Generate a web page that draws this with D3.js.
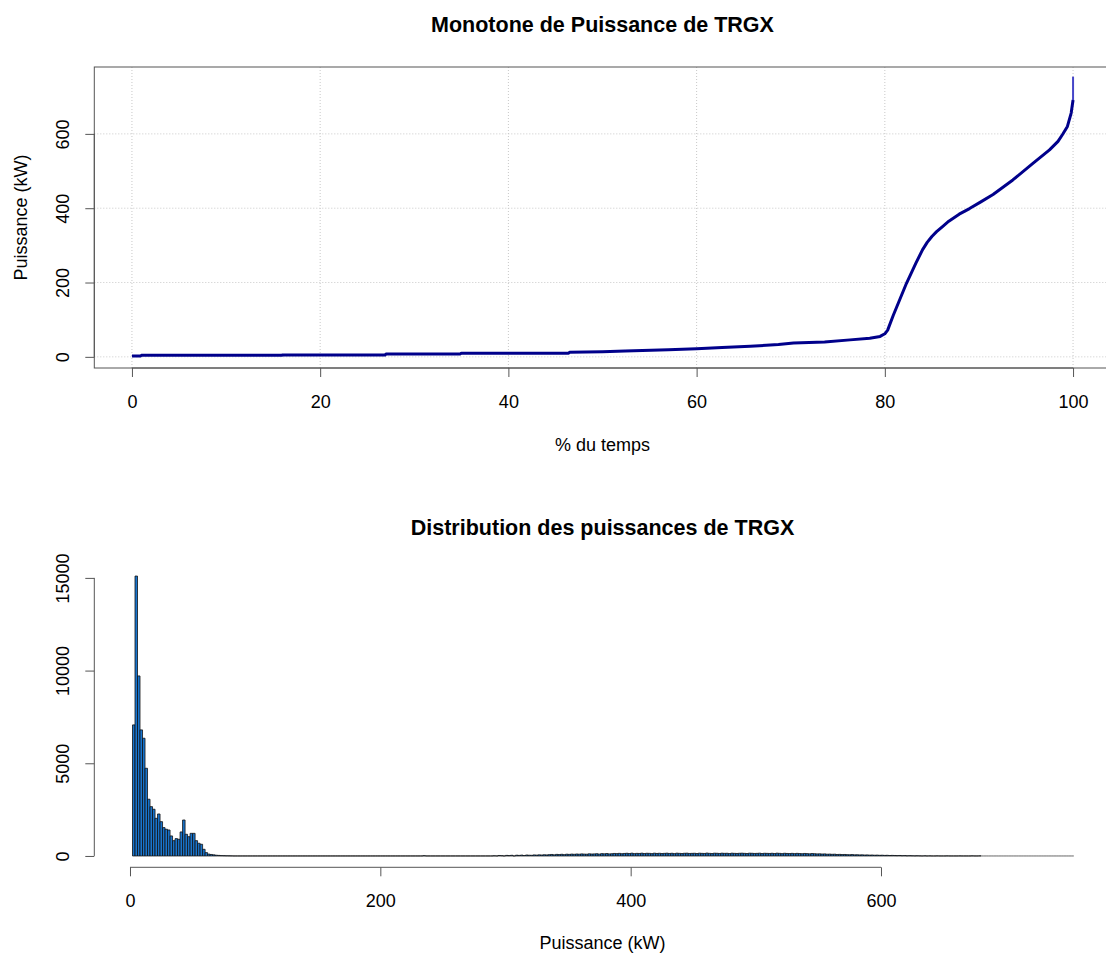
<!DOCTYPE html>
<html>
<head>
<meta charset="utf-8">
<script src="https://cdn.jsdelivr.net/npm/d3@7"></script>
<style>
  body { margin: 0; background: #fff; }
  svg { display: block; font-family: "Liberation Sans", Arial, sans-serif; }
</style>
</head>
<body>
<script>
var w = 1106;
var h = 954;

/*
    Monotone (load duration curve): % of time vs power in kW.
*/
var pctTime = [0, 0.9, 1.0, 15.9, 16.0, 26.9, 27.0, 34.9, 35.0, 46.4, 46.5, 50, 52.4, 57, 60, 62.7, 65.7, 68.7,
    70.3, 73.6, 76.3, 78.4, 79.5, 80.0, 80.3, 80.9, 81.6, 82.3, 83.3, 84.0, 84.5, 85.0, 85.5, 86.1, 86.8,
    87.9, 89.0, 90.2, 91.5, 93.6, 95.7, 97.5, 98.4, 98.9, 99.4, 99.8, 100];
var powerKw = [2, 2, 4, 4, 5, 5, 8, 8, 10, 10, 12.5, 14, 16, 19, 21.5, 25, 28.7, 33,
    37, 40, 45.7, 50, 55, 62, 72, 112, 155, 198, 252, 288, 308, 324, 337, 350, 365,
    384, 399, 417, 437, 476, 520, 557, 580, 599, 620, 656, 691];
// the last few points all sit at 100 %
var tailPct = [100, 100];
var tailKw = [691, 754];

var xTicksTop = [0, 20, 40, 60, 80, 100];
var yTicksTop = [0, 200, 400, 600];

/*
    Histogram of power, bins of 2 kW.
*/
var binWidth = 2;
var histStart = 2;
var histEnd = 754;
var lowStart = 2;
var lowCounts = [7070, 15100, 9710, 6800, 6350, 4730, 3060, 2660, 2520, 2030, 2265, 1850, 1530, 1440, 1400,
    1080, 825, 935, 900, 1295, 1940, 1170, 1040, 1220, 1220, 825, 685, 630, 360, 180, 100, 80, 60, 40, 30,
    20, 15, 10, 8, 5];
var bumpStart = 234;
var bumpCounts = [15];
var highStart = 290;
var highCounts = [
    10, 0, 25, 15, 0, 30, 20, 35, 0, 40,
    30, 45, 25, 50, 40, 35, 55, 45, 60, 50,
    65, 55, 70, 80, 60, 85, 75, 90, 70, 95,
    85, 100, 90, 105, 95, 110, 100, 95, 115, 105,
    110, 120, 100, 125, 115, 130, 110, 120, 135, 125,
    140, 120, 135, 145, 130, 150, 125, 140, 135, 150,
    130, 145, 140, 125, 150, 135, 145, 130, 140, 150,
    135, 145, 125, 150, 140, 130, 145, 150, 135, 140,
    145, 130, 150, 140, 135, 155, 140, 130, 150, 145,
    135, 150, 140, 145, 130, 150, 140, 135, 145, 150,
    140, 130, 150, 145, 135, 140, 150, 130, 145, 140,
    135, 145, 130, 150, 140, 125, 145, 135, 130, 140,
    125, 140, 130, 120, 135, 125, 115, 130, 120, 110,
    115, 105, 110, 95, 100, 90, 95, 80, 85, 75,
    80, 70, 65, 75, 60, 65, 55, 60, 50, 55,
    45, 50, 40, 45, 35, 40, 30, 35, 25, 30,
    25, 20, 25, 15, 20, 10, 15, 10, 5, 10,
    5, 0, 8, 0, 5, 0, 0, 5, 0, 0,
    0, 4, 0, 0, 0, 0, 3, 0, 0, 0,
    0, 6, 0, 0, 5];

var xTicksHist = [0, 200, 400, 600];
var yTicksHist = [0, 5000, 10000, 15000];

var svg = d3.select("body")
    .append("svg")
    .attr("width", w)
    .attr("height", h);

var axisColor = "#555";
var tickLen = 9;
var labelSize = "18px";
var titleSize = "21.5px";

/* ---------- top chart ---------- */
var xTop = d3.scaleLinear().domain([-4, 104]).range([94.3, 1110.7]);
var yTop = d3.scaleLinear().domain([-30, 780]).range([368, 67]);

var topG = svg.append("g");

// grid
topG.selectAll(".gx")
    .data(xTicksTop)
    .enter()
    .append("line")
    .attr("x1", function(d){ return xTop(d); })
    .attr("x2", function(d){ return xTop(d); })
    .attr("y1", yTop.range()[0])
    .attr("y2", yTop.range()[1])
    .attr("stroke", "#c8c8c8")
    .attr("stroke-dasharray", "1,2");
topG.selectAll(".gy")
    .data(yTicksTop)
    .enter()
    .append("line")
    .attr("x1", xTop.range()[0])
    .attr("x2", xTop.range()[1])
    .attr("y1", function(d){ return yTop(d); })
    .attr("y2", function(d){ return yTop(d); })
    .attr("stroke", "#c8c8c8")
    .attr("stroke-dasharray", "1,2");

// curve
var lineData = pctTime.map(function(p, i){ return [p, powerKw[i]]; });
var tailData = tailPct.map(function(p, i){ return [p, tailKw[i]]; });
var line = d3.line()
    .x(function(d){ return xTop(d[0]); })
    .y(function(d){ return yTop(d[1]); });

topG.append("path")
    .datum(tailData)
    .attr("d", line)
    .attr("fill", "none")
    .attr("stroke", "#4646c8")
    .attr("stroke-width", 2);
topG.append("path")
    .datum(lineData)
    .attr("d", line)
    .attr("fill", "none")
    .attr("stroke", "#00008B")
    .attr("stroke-width", 3)
    .attr("stroke-linejoin", "round");

// box
topG.append("rect")
    .attr("x", xTop.range()[0])
    .attr("y", yTop.range()[1])
    .attr("width", xTop.range()[1] - xTop.range()[0])
    .attr("height", yTop.range()[0] - yTop.range()[1])
    .attr("fill", "none")
    .attr("stroke", axisColor);

// axes
var xAxisTop = d3.axisBottom(xTop).tickValues(xTicksTop).tickSize(tickLen).tickFormat(d3.format("d"));
var gxTop = topG.append("g")
    .attr("transform", "translate(0," + yTop.range()[0] + ")")
    .call(xAxisTop);

var yAxisTop = d3.axisLeft(yTop).tickValues(yTicksTop).tickSize(tickLen).tickFormat(d3.format("d"));
var gyTop = topG.append("g")
    .attr("transform", "translate(" + xTop.range()[0] + ",0)")
    .call(yAxisTop);

/* ---------- histogram ---------- */
var xHist = d3.scaleLinear().domain([-30, 782]).range([92.45, 1108.8]);
var yHist = d3.scaleLinear().domain([-612, 15912]).range([867.3, 561]);

var bins = [];
for (var b = histStart; b < histEnd; b += binWidth) {
    bins.push({x0: b, x1: b + binWidth, n: 0});
}
function putCounts(start, counts) {
    counts.forEach(function(c, i){
        var k = (start - histStart) / binWidth + i;
        bins[k].n = c;
    });
}
putCounts(lowStart, lowCounts);
putCounts(bumpStart, bumpCounts);
putCounts(highStart, highCounts);
var lastFull = d3.max(bins, function(d, i){ return d.n > 0 ? i : -1; });

var hist = svg.append("g");
hist.selectAll("path.bar")
    .data(bins)
    .enter()
    .append("path")
    .attr("class", "bar")
    .attr("d", function(d){
        var x0 = xHist(d.x0), x1 = xHist(d.x1), y0 = yHist(0), y1 = yHist(d.n);
        return "M" + x0 + "," + y0 + "V" + y1 + "H" + x1 + "V" + y0 + "Z";
    })
    .attr("fill", "#1874CD")
    .attr("stroke", function(d, i){ return i > lastFull ? "#888" : "#111"; })
    .attr("stroke-width", 0.8);

var xAxisHist = d3.axisBottom(xHist).tickValues(xTicksHist).tickSize(tickLen).tickFormat(d3.format("d"));
var gxHist = hist.append("g")
    .attr("transform", "translate(0," + yHist.range()[0] + ")")
    .call(xAxisHist);

var yAxisHist = d3.axisLeft(yHist).tickValues(yTicksHist).tickSize(tickLen).tickFormat(d3.format("d"));
var gyHist = hist.append("g")
    .attr("transform", "translate(" + xTop.range()[0] + ",0)")
    .call(yAxisHist);

/*
    R style axes: the axis line only runs from first to last tick,
    labels parallel to the axis.
*/
function styleX(g, scale, ticks) {
    g.select(".domain").remove();
    g.append("line")
        .attr("x1", scale(ticks[0]))
        .attr("x2", scale(ticks[ticks.length - 1]))
        .attr("stroke", axisColor);
    g.selectAll(".tick line").attr("stroke", axisColor);
    g.selectAll(".tick text")
        .attr("y", 39.5)
        .attr("dy", 0)
        .attr("fill", "#000")
        .style("font-size", labelSize)
        .style("font-family", "'Liberation Sans', Arial, sans-serif");
}
function styleY(g, scale, ticks) {
    g.select(".domain").remove();
    g.append("line")
        .attr("y1", scale(ticks[0]))
        .attr("y2", scale(ticks[ticks.length - 1]))
        .attr("stroke", axisColor);
    g.selectAll(".tick line").attr("stroke", axisColor);
    g.selectAll(".tick text")
        .attr("x", 0)
        .attr("dy", 0)
        .attr("text-anchor", "middle")
        .attr("transform", "translate(-25,0) rotate(-90)")
        .attr("fill", "#000")
        .style("font-size", labelSize)
        .style("font-family", "'Liberation Sans', Arial, sans-serif");
}
styleX(gxTop, xTop, xTicksTop);
styleY(gyTop, yTop, yTicksTop);
styleX(gxHist, xHist, xTicksHist);
styleY(gyHist, yHist, yTicksHist);

/* ---------- titles ---------- */
var cx = (xTop.range()[0] + xTop.range()[1]) / 2;
svg.append("text")
    .attr("x", cx).attr("y", 31.5)
    .attr("text-anchor", "middle")
    .style("font-size", titleSize).style("font-weight", "bold")
    .text("Monotone de Puissance de TRGX");
svg.append("text")
    .attr("x", cx).attr("y", 451)
    .attr("text-anchor", "middle")
    .style("font-size", labelSize)
    .text("% du temps");
svg.append("text")
    .attr("transform", "translate(27," + ((yTop.range()[0] + yTop.range()[1]) / 2) + ") rotate(-90)")
    .attr("text-anchor", "middle")
    .style("font-size", labelSize)
    .text("Puissance (kW)");

svg.append("text")
    .attr("x", cx).attr("y", 534.5)
    .attr("text-anchor", "middle")
    .style("font-size", titleSize).style("font-weight", "bold")
    .text("Distribution des puissances de TRGX");
svg.append("text")
    .attr("x", cx).attr("y", 949)
    .attr("text-anchor", "middle")
    .style("font-size", labelSize)
    .text("Puissance (kW)");
</script>
</body>
</html>
